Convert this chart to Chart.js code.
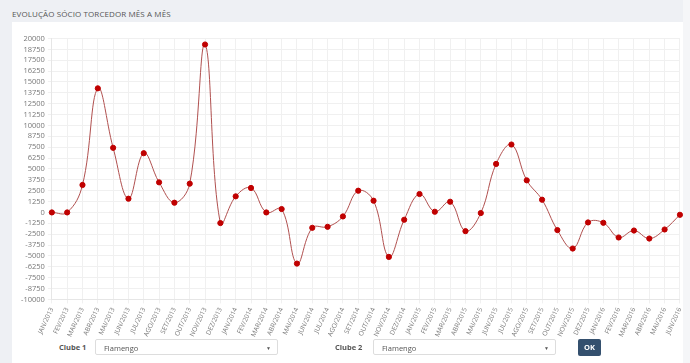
<!DOCTYPE html>
<html>
<head>
<meta charset="utf-8">
<script src="https://cdn.jsdelivr.net/npm/chart.js@4/dist/chart.umd.min.js"></script>
<style>
  body { margin:0; background:#eef0f4; font-family:"Open Sans", sans-serif; width:690px; height:363px; overflow:hidden; position:relative; }
  .title { position:absolute; left:12px; top:8px; font-size:8px; color:#555; letter-spacing:0.1px; }
  .panel { position:absolute; left:12px; top:22px; width:671px; height:345px; background:#fff; }
  .strip { position:absolute; left:683px; top:0; width:7px; height:363px; background:#f5f6f8; }
  #wrap { position:absolute; left:14px; top:31px; width:676px; height:310px; }
  .lbl { position:absolute; font-size:7.5px; font-weight:bold; color:#555; }
  .sel { position:absolute; height:16px; border:1px solid #ddd; border-radius:2px; background:#fff; font-size:7.5px; color:#555; line-height:16px; padding-left:8px; box-sizing:border-box; }
  .sel span { position:absolute; right:6px; top:0; font-size:5px; }
  .btn { position:absolute; left:578px; top:339px; width:23px; height:17px; background:#34506e; color:#fff; font-size:7.5px; font-weight:bold; text-align:center; line-height:17px; border-radius:2px; }
</style>
</head>
<body>
<div class="panel"></div>
<div class="strip"></div>
<div class="title">EVOLUÇÃO SÓCIO TORCEDOR MÊS A MÊS</div>
<div id="wrap"><canvas id="lineChart" width="676" height="310"></canvas></div>
<div class="lbl" style="left:59px;top:342px;">Clube 1</div>
<div class="sel" style="left:95px;top:339px;width:183px;">Flamengo<span>▼</span></div>
<div class="lbl" style="left:335px;top:342px;">Clube 2</div>
<div class="sel" style="left:373px;top:339px;width:183px;">Flamengo<span>▼</span></div>
<div class="btn">OK</div>
<script>
// meses
var months = ["JAN/2013","FEV/2013","MAR/2013","ABR/2013","MAI/2013","JUN/2013","JUL/2013","AGO/2013","SET/2013","OUT/2013","NOV/2013","DEZ/2013",
  "JAN/2014","FEV/2014","MAR/2014","ABR/2014","MAI/2014","JUN/2014","JUL/2014","AGO/2014","SET/2014","OUT/2014","NOV/2014","DEZ/2014",
  "JAN/2015","FEV/2015","MAR/2015","ABR/2015","MAI/2015","JUN/2015","JUL/2015","AGO/2015","SET/2015","OUT/2015","NOV/2015","DEZ/2015",
  "JAN/2016","FEV/2016","MAR/2016","ABR/2016","MAI/2016","JUN/2016"];

// saldo de socios por mes
var saldo = [0, 0, 3160, 14270, 7430, 1580, 6810, 3460, 1120, 3310, 19310, -1220,
  1850, 2815, 0, 390, -5880, -1765, -1650, -460, 2500, 1350, -5110, -840,
  2120, 80, 1230, -2150, -70, 5580, 7810, 3690, 1465, -2030, -4150, -1150,
  -1190, -2880, -2080, -3000, -1960, -270];

// eixo y
var yMin = -10000;
var yMax = 20000;
var yStep = 1250;

var ctx = document.getElementById("lineChart");
var chart = new Chart(ctx, {
  type: 'line',
  data: {
    labels: months,
    datasets: [{
      label: "Flamengo",
      data: saldo,
      fill: false,
      tension: 0.4,
      borderColor: "#b0504f",
      borderWidth: 1,
      pointBackgroundColor: "#c00000",
      pointBorderColor: "#c00000",
      pointRadius: 2.6,
      pointBorderWidth: 1
    }]
  },
  options: {
    responsive: false,
    animation: false,
    layout: { padding: { left: 4, right: 7, top: 2, bottom: 0 } },
    plugins: { legend: { display: false }, tooltip: { enabled: false } },
    scales: {
      x: {
        grid: { color: "#f0f0f0", tickLength: 4 },
        border: { color: "#e6e6e6" },
        ticks: { autoSkip: false, minRotation: 65, maxRotation: 65, color: "#777", font: { size: 6.5, family: "Open Sans" } }
      },
      y: {
        min: yMin,
        max: yMax,
        grid: { color: "#f0f0f0", tickLength: 4 },
        border: { color: "#e6e6e6" },
        ticks: {
          stepSize: yStep, autoSkip: false, color: "#777", font: { size: 7.5, family: "Open Sans" },
          callback: function (v) { return String(v); }
        }
      }
    }
  }
});
</script>
</body>
</html>
